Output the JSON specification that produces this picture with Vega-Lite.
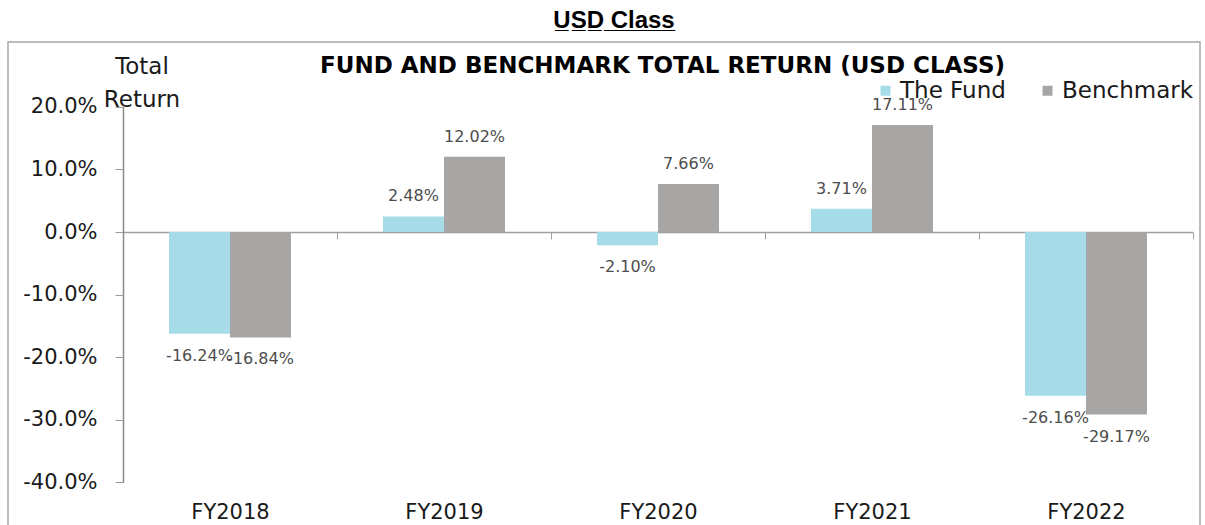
{
  "$schema": "https://vega.github.io/schema/vega-lite/v6.json",
  "width": 1192,
  "height": 500,
  "autosize": {"type": "none"},
  "padding": {"left": 8, "top": 42, "right": 5, "bottom": 0},
  "background": "white",
  "title": {
    "text": "U̲S̲D̲ ̲C̲l̲a̲s̲s̲",
    "font": "Liberation Sans",
    "fontSize": 24,
    "fontWeight": "bold",
    "color": "black",
    "anchor": "middle",
    "frame": "group",
    "baseline": "bottom",
    "offset": -15,
    "dx": 10
  },
  "config": {
    "view": {"stroke": "#a6a6a6", "strokeWidth": 1.5},
    "axis": {"grid": false},
    "locale": {
      "number": {"decimal": ".", "thousands": ",", "grouping": [3], "currency": ["$", ""], "minus": "-"}
    }
  },
  "data": {
    "values": [
      {"year": "FY2018", "series": "The Fund", "value": -0.1624},
      {"year": "FY2018", "series": "Benchmark", "value": -0.1684},
      {"year": "FY2019", "series": "The Fund", "value": 0.0248},
      {"year": "FY2019", "series": "Benchmark", "value": 0.1202},
      {"year": "FY2020", "series": "The Fund", "value": -0.021},
      {"year": "FY2020", "series": "Benchmark", "value": 0.0766},
      {"year": "FY2021", "series": "The Fund", "value": 0.0371},
      {"year": "FY2021", "series": "Benchmark", "value": 0.1711},
      {"year": "FY2022", "series": "The Fund", "value": -0.2616},
      {"year": "FY2022", "series": "Benchmark", "value": -0.2917}
    ]
  },
  "encoding": {
    "x": {
      "field": "year",
      "type": "nominal",
      "sort": null,
      "scale": {"type": "band", "range": [115, 1185], "paddingInner": 0, "paddingOuter": 0},
      "axis": {
        "orient": "bottom",
        "offset": -310,
        "domain": true,
        "domainColor": "#a0a0a0",
        "domainWidth": 1.5,
        "ticks": true,
        "tickBand": "extent",
        "tickSize": 7,
        "tickColor": "#a0a0a0",
        "tickWidth": 1,
        "labelAngle": 0,
        "labelFont": "DejaVu Sans",
        "labelFontSize": 21,
        "labelColor": "#1a1a1a",
        "labelPadding": 262,
        "title": "FUND AND BENCHMARK TOTAL RETURN (USD CLASS)",
        "titleFont": "DejaVu Sans",
        "titleFontSize": 23,
        "titleFontWeight": "bold",
        "titleColor": "black",
        "titleX": 654,
        "titleY": -167,
        "titleAlign": "center",
        "titleBaseline": "middle"
      }
    },
    "xOffset": {
      "field": "series",
      "type": "nominal",
      "sort": ["The Fund", "Benchmark"],
      "scale": {"paddingInner": 0, "paddingOuter": 0.754}
    },
    "y": {
      "field": "value",
      "type": "quantitative",
      "scale": {"domain": [-0.4, 0.2], "range": [440.4, 64.8], "nice": false, "zero": false},
      "axis": {
        "orient": "left",
        "offset": -115,
        "values": [-0.4, -0.3, -0.2, -0.1, 0, 0.1, 0.2],
        "format": ".1%",
        "domain": true,
        "domainColor": "#8c8c8c",
        "domainWidth": 1.5,
        "tickSize": 8,
        "tickColor": "#9a9a9a",
        "labelFont": "DejaVu Sans",
        "labelFontSize": 21,
        "labelColor": "#1a1a1a",
        "labelPadding": 18,
        "labelFlush": false,
        "labelOverlap": false,
        "title": ["Total", "Return"],
        "titleFont": "DejaVu Sans",
        "titleFontSize": 23,
        "titleFontWeight": "normal",
        "titleColor": "#1a1a1a",
        "titleAngle": 0,
        "titleAlign": "center",
        "titleBaseline": "middle",
        "titleX": 18.5,
        "titleY": 24,
        "titleLineHeight": 33.5
      }
    }
  },
  "layer": [
    {
      "mark": {"type": "bar"},
      "encoding": {
        "color": {
          "field": "series",
          "type": "nominal",
          "scale": {"domain": ["The Fund", "Benchmark"], "range": ["#a6dce8", "#a8a5a5"]},
          "legend": {
            "orient": "none",
            "legendX": 866,
            "legendY": 37,
            "direction": "horizontal",
            "title": null,
            "symbolType": "square",
            "symbolSize": 100,
            "symbolStrokeWidth": 0,
            "labelFont": "DejaVu Sans",
            "labelFontSize": 23,
            "labelColor": "#1a1a1a",
            "labelOffset": 3,
            "columnPadding": 30,
            "padding": 0
          }
        }
      }
    },
    {
      "transform": [{"filter": "datum.value >= 0"}],
      "mark": {"type": "text", "dy": -20, "baseline": "middle", "align": "center", "font": "DejaVu Sans", "fontSize": 16, "color": "#4d4d4d"},
      "encoding": {"text": {"field": "value", "type": "quantitative", "format": ".2%"}}
    },
    {
      "transform": [{"filter": "datum.value < 0"}],
      "mark": {"type": "text", "dy": 22, "baseline": "middle", "align": "center", "font": "DejaVu Sans", "fontSize": 16, "color": "#4d4d4d"},
      "encoding": {"text": {"field": "value", "type": "quantitative", "format": ".2%"}}
    }
  ]
}
